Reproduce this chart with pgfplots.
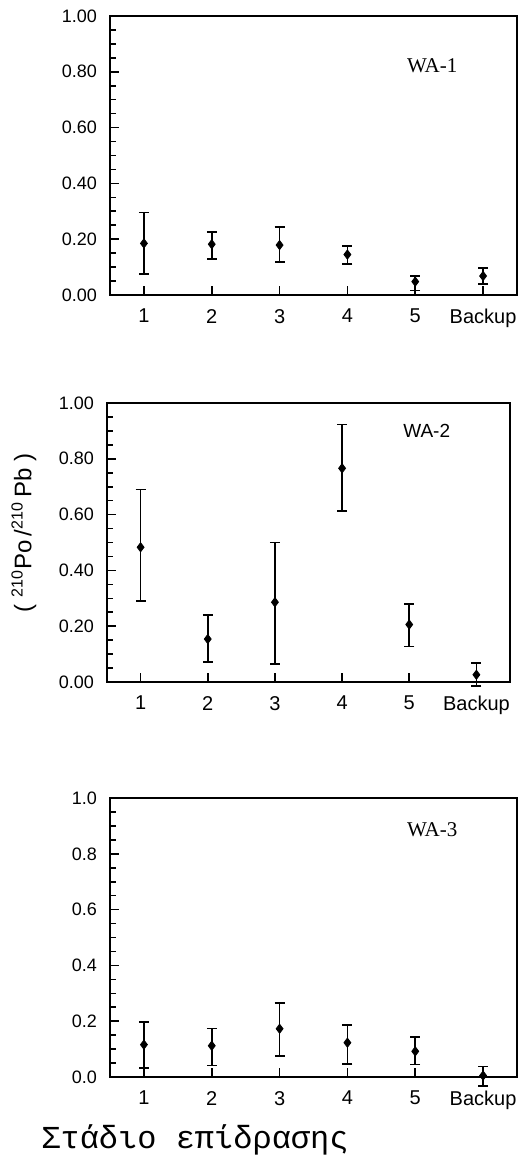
\documentclass[border=0pt]{standalone}
\usepackage{fontspec}
\setmainfont{Liberation Sans}
\newfontfamily\seriffont{Liberation Serif}
\newfontfamily\grmono{Liberation Mono}
\usepackage{pgfplots}
\pgfplotsset{compat=1.18}
\usepackage{pgfplotstable}

\pgfplotstableread{
x y ep em
1 0.185 0.111 0.111
2 0.182 0.045 0.053
3 0.179 0.064 0.062
4 0.145 0.032 0.034
5 0.048 0.021 0.032
6 0.068 0.028 0.030
}\waone
\pgfplotstableread{
x y ep em
1 0.483 0.207 0.194
2 0.154 0.085 0.081
3 0.286 0.214 0.222
4 0.766 0.157 0.154
5 0.206 0.075 0.079
6 0.026 0.041 0.039
}\watwo
\pgfplotstableread{
x y ep em
1 0.116 0.081 0.084
2 0.112 0.062 0.071
3 0.173 0.093 0.098
4 0.123 0.062 0.075
5 0.092 0.051 0.047
6 0.005 0.033 0.036
}\wathree

\pgfplotsset{
  panel/.style={
    scale only axis, width=203.5pt, height=139.5pt,
    xmin=0.5, xmax=6.5, ymin=0, ymax=1,
    xtick={1,2,3,4,5,6}, xticklabels={1,2,3,4,5,Backup},
    ytick={0,0.2,0.4,0.6,0.8,1},
    minor y tick num=3,
    tick align=inside, xtick pos=bottom, ytick pos=left,
    major tick length=4.5pt, minor tick length=3pt,
    axis line style={line width=1pt},
    every tick/.style={black, line width=0.8pt},
    yticklabel style={font=\fontsize{9}{10}\selectfont, xshift=-3pt},
    xticklabel style={font=\fontsize{10}{11}\selectfont, yshift=-3.5pt},
    /pgf/number format/assume math mode=true,
    clip=false,
  },
  pts/.style={black, only marks, mark=diamond*, mark size=2.3pt,
    error bars/.cd, y dir=both, y explicit,
    error bar style={line width=0.9pt},
    error mark options={rotate=90, line width=0.9pt, mark size=2.5pt}},
}

\begin{document}
\begin{tikzpicture}
\useasboundingbox (0,0) rectangle (259.5pt,-582.5pt);

\begin{axis}[panel, at={(55pt,-147.5pt)}, anchor=south west,
  yticklabel style={/pgf/number format/.cd, fixed, fixed zerofill, precision=2}]
\addplot[pts] table[x=x, y=y, y error plus=ep, y error minus=em] {\waone};
\node[font=\seriffont\fontsize{10.5}{12}\selectfont] at (axis cs:5.25,0.82) {WA-1};
\end{axis}

\begin{axis}[panel, width=201.5pt, at={(53.5pt,-341pt)}, anchor=south west,
  yticklabel style={/pgf/number format/.cd, fixed, fixed zerofill, precision=2}]
\addplot[pts] table[x=x, y=y, y error plus=ep, y error minus=em] {\watwo};
\node[font=\fontsize{9.5}{11}\selectfont] at (axis cs:5.26,0.90) {WA-2};
\end{axis}

\begin{axis}[panel, at={(55pt,-538.5pt)}, anchor=south west,
  yticklabel style={/pgf/number format/.cd, fixed, fixed zerofill, precision=1}]
\addplot[pts] table[x=x, y=y, y error plus=ep, y error minus=em] {\wathree};
\node[font=\seriffont\fontsize{10.5}{12}\selectfont] at (axis cs:5.25,0.885) {WA-3};
\end{axis}

\node[rotate=90, font=\fontsize{12}{14}\selectfont] at (12pt,-266.5pt)
  {( \textsuperscript{210}Po\,/\textsuperscript{210}\,Pb )};
\node[anchor=base, font=\grmono\fontsize{16}{18}\selectfont] at (97.5pt,-574pt)
  {Στάδιο επίδρασης};
\end{tikzpicture}
\end{document}
